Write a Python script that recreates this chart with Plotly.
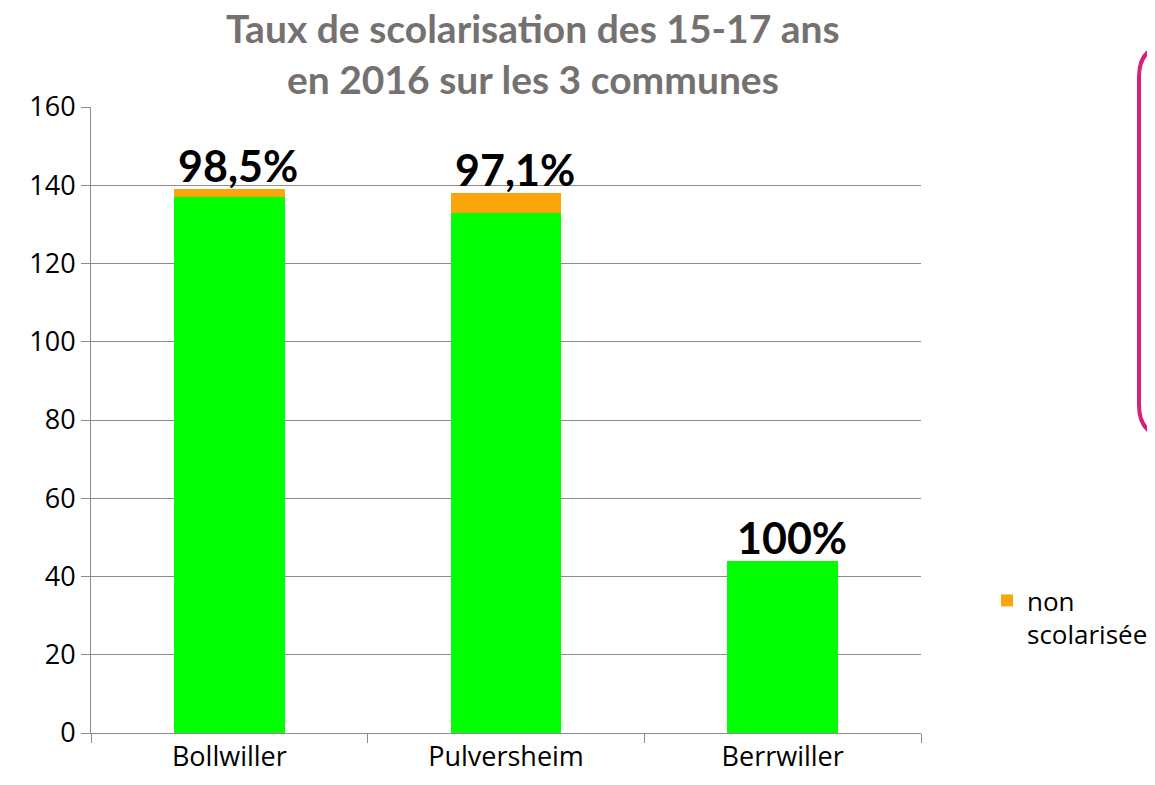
import plotly.graph_objects as go

communes = ["Bollwiller", "Pulversheim", "Berrwiller"]
scolarisee = [137, 133, 44]
non_scolarisee = [2, 5, 0]
taux_labels = ["98,5%", "97,1%", "100%"]
y_ticks = [0, 20, 40, 60, 80, 100, 120, 140, 160]
title_text = "<b>Taux de scolarisation des 15-17 ans<br>en 2016 sur les 3 communes</b>"

OFF = 8  # page body margin
W, H = 1155 - OFF, 785 - OFF
L, R, T, B = 91 - OFF, 921 - OFF, 107 - OFF, 733 - OFF

fig = go.Figure()
fig.add_bar(x=communes, y=scolarisee, marker_color="#00FF00", name="scolarisée",
            showlegend=False, marker_line_width=0)
fig.add_bar(x=communes, y=non_scolarisee, marker_color="#FAA50A", name="non<br>scolarisée",
            marker_line_width=0)

totals = [a + b for a, b in zip(scolarisee, non_scolarisee)]
for c, t, lab in zip(communes, totals, taux_labels):
    fig.add_annotation(x=c, y=t, text="<b>" + lab + "</b>", showarrow=False,
                       yanchor="bottom", xshift=9, yshift=-4,
                       font=dict(family="Lato", size=43, color="black"))

def px(x):  # screen x -> paper
    return (x - OFF - L) / (R - L)

def py(y):  # screen y -> paper
    return (B - (y - OFF)) / (B - T)

# chart title
fig.add_annotation(x=px(533), y=py(53), xref="paper", yref="paper", text=title_text,
                   showarrow=False, xanchor="center", yanchor="middle",
                   font=dict(family="Lato", size=39, color="#767171"))

# pink rounded box at top right (partially cut)
x0, x1, y0, y1 = px(1139), px(1210), py(437), py(45)
rx = 32 / (R - L)
ry = 32 / (B - T)
path = (f"M {x1},{y1} L {x0+rx},{y1} Q {x0},{y1} {x0},{y1-ry} "
        f"L {x0},{y0+ry} Q {x0},{y0} {x0+rx},{y0} L {x1},{y0}")
fig.add_shape(type="path", path=path, xref="paper", yref="paper",
              line=dict(color="#D6207E", width=4))

fig.update_layout(
    width=W, height=H,
    margin=dict(l=L, r=W - R, t=T, b=H - B, pad=0, autoexpand=False),
    paper_bgcolor="white", plot_bgcolor="white",
    barmode="stack", bargap=0.6,
    legend=dict(x=px(987), y=py(577), xanchor="left", yanchor="top", valign="top",
                font=dict(family="Open Sans", size=26, color="black"),
                bgcolor="rgba(0,0,0,0)", itemwidth=30, tracegroupgap=0),
    font=dict(family="Open Sans", size=27, color="black"),
)
fig.update_yaxes(range=[0, 160], tickvals=y_ticks, showgrid=True, gridcolor="#8C8C8C",
                 gridwidth=1, showline=True, linecolor="#8C8C8C", linewidth=1,
                 ticks="outside", ticklen=9, tickcolor="#8C8C8C", zeroline=False,
                 tickfont=dict(family="Open Sans", size=27, color="black"))
fig.update_xaxes(showline=True, linecolor="#8C8C8C", linewidth=1, ticks="outside",
                 tickson="boundaries", ticklen=9, tickcolor="#8C8C8C",
                 tickfont=dict(family="Open Sans", size=27, color="black"))

fig.write_html("out.html")
